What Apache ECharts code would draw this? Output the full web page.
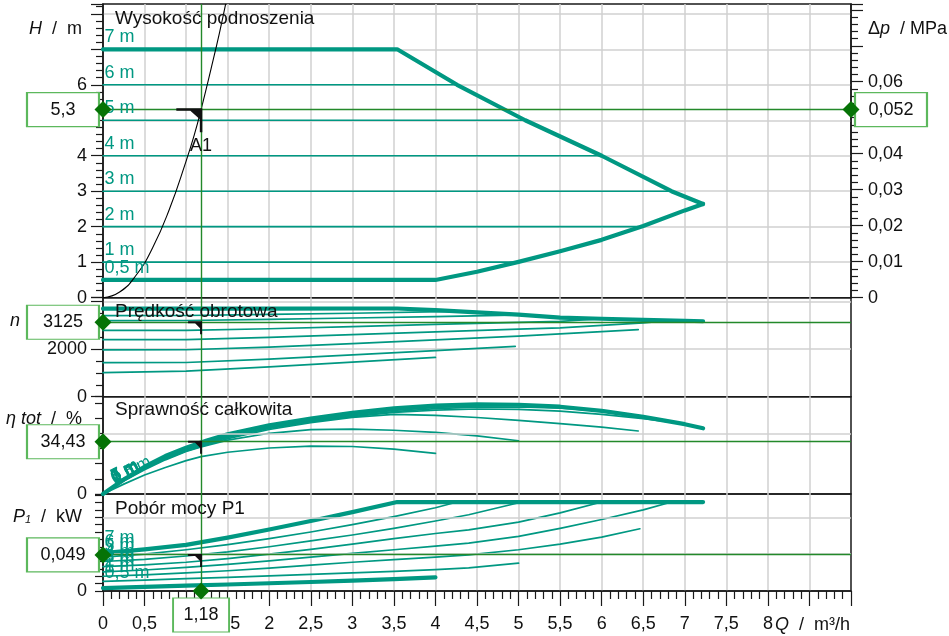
<!DOCTYPE html>
<html><head><meta charset="utf-8">
<script src="https://cdn.jsdelivr.net/npm/echarts@6/dist/echarts.min.js"></script>
<style>html,body{margin:0;padding:0;background:#fff}#c{width:949px;height:636px}</style>
</head><body><div id="c"></div>
<script>
// ---------- DATA ----------
const LEVEL_LABELS = ['7 m','6 m','5 m','4 m','3 m','2 m','1 m','0,5 m'];
const H_LEVELS = [7, 6, 5, 4, 3, 2, 1, 0.5];

// Head (H / m) vs Q (m3/h)
const H_UPPER = [[0,7],[3.54,7],[4.26,6],[5.08,5],[6,4],[6.84,3],[7.22,2.64]];
const H_LOWER = [[0,0.5],[4,0.5],[4.5,0.73],[5,1.01],[5.5,1.31],[6,1.63],[6.5,2.02],[7,2.46],[7.22,2.64]];
const H_6 = [[0,6],[4.26,6]];
const H_5 = [[0,5],[5.08,5]];
const H_4 = [[0,4],[6,4]];
const H_3 = [[0,3],[6.84,3]];
const H_2 = [[0,2],[6.44,2]];
const H_1 = [[0,1],[4.96,1]];
const SYSTEM = [[0,0],[0.2,0.16],[0.4,0.64],[0.6,1.42],[0.8,2.5],[1.0,3.85],[1.1,4.6],[1.18,5.3],[1.3,6.45],[1.4,7.45],[1.476,8.28]];

// Speed (n / rpm)
const N_7 = [[0,3690],[1,3693],[2,3697],[3,3700],[3.54,3700],[4,3630],[4.5,3535],[5,3440],[5.5,3320],[6,3270],[6.5,3225],[7,3185],[7.22,3165]];
const N_6 = [[0,3400],[1,3405],[2,3450],[3,3500],[4.26,3580]];
const N_5 = [[0,3190],[1,3195],[2,3240],[3,3300],[4,3360],[5.08,3428]];
const N_4 = [[0,2780],[1,2785],[2,2850],[3,2940],[4,3030],[5,3115],[5.5,3160],[6,3270]];
const N_3 = [[0,2390],[1,2392],[2,2490],[3,2600],[4,2715],[5,2830],[5.5,2890],[6,2990],[6.5,3100],[6.84,3198]];
const N_2 = [[0,1965],[1,1970],[2,2080],[3,2230],[4,2380],[5,2540],[5.5,2635],[6,2730],[6.44,2814]];
const N_1 = [[0,1430],[1,1435],[2,1580],[3,1755],[4,1930],[4.96,2110]];
const N_05 = [[0,1013],[1,1070],[2,1250],[3,1450],[4,1646]];

// Total efficiency (eta / %)
const E_7 = [[0,0],[0.25,9.5],[0.5,18],[0.75,25],[1,30.5],[1.25,35.3],[1.5,39.3],[2,45.3],[2.5,49.7],[3,53.5],[3.5,56.4],[4,58.2],[4.5,59.1],[5,58.8],[5.5,57.5],[6,54.8],[6.5,50.8],[7,46],[7.22,43.3]];
const E_6 = [[0,0],[0.25,9.3],[0.5,17.7],[0.75,24.6],[1,30],[1.5,38.8],[2,44.7],[2.5,49],[3,52.8],[3.5,55.7],[4,57.6],[4.26,58.6]];
const E_5 = [[0,0],[0.25,9.2],[0.5,17.5],[0.75,24.3],[1,29.7],[1.5,38.3],[2,44.2],[2.5,48.5],[3,52.2],[3.5,55],[4,57],[4.5,58],[5.08,58.6]];
const E_4 = [[0,0],[0.25,9.1],[0.5,17.3],[0.75,24],[1,29.4],[1.5,37.8],[2,43.7],[2.5,48],[3,51.6],[3.5,54.3],[4,56.2],[4.5,57.2],[5,57.3],[5.5,56.6],[6,54.8]];
const E_3 = [[0,0],[0.25,9],[0.5,17],[0.75,23.6],[1,29],[1.5,37.3],[2,43.2],[2.5,47.6],[3,51],[3.5,53.7],[4,55.3],[4.5,56],[5,55.8],[5.5,54.6],[6,52.5],[6.5,49.6],[6.84,47.4]];
const E_2 = [[0,0],[0.25,8.7],[0.5,16.5],[0.75,23],[1,28.3],[1.5,36.5],[2,42.5],[2.5,47],[3,50.5],[3.5,52.5],[4,51.8],[4.5,50.4],[5,48.5],[5.5,46.4],[6,44],[6.44,41.5]];
const E_1 = [[0,0],[0.25,8.5],[0.5,16],[0.75,22.5],[1,28],[1.18,31],[1.5,35.5],[2,40],[2.5,42.4],[3,42.8],[3.5,42],[4,40.6],[4.5,38.3],[5,35.1]];
const E_05 = [[0,0],[0.25,6.5],[0.5,12.5],[0.75,17.5],[1,22],[1.18,24.6],[1.5,27.5],[2,30.3],[2.5,31.5],[3,31.3],[3.5,29.6],[4,26.8]];
const E_LABEL_POS = [11.4, 11.1, 10.8, 10.5, 10.2, 9.9, 9.6, 9.3];

// Power input (P1 / kW)
const P_7 = [[0,0.0513],[0.5,0.0565],[1,0.0625],[1.5,0.0725],[2,0.0835],[2.5,0.0950],[3,0.1070],[3.54,0.1207],[7.22,0.1207]];
const P_6 = [[0,0.0460],[0.5,0.0500],[1,0.0560],[1.5,0.0630],[2,0.0710],[2.5,0.0800],[3,0.0900],[3.5,0.1010],[4,0.1130],[4.26,0.1207]];
const P_5 = [[0,0.0400],[0.5,0.0430],[1,0.0475],[1.5,0.0530],[2,0.0600],[2.5,0.0680],[3,0.0760],[3.5,0.0850],[4,0.0950],[4.4,0.1034],[5.04,0.1207]];
const P_4 = [[0,0.0330],[0.5,0.0355],[1,0.0390],[1.5,0.0440],[2,0.0500],[2.5,0.0565],[3,0.0635],[3.5,0.0710],[4,0.0780],[4.4,0.0830],[5,0.0935],[5.5,0.1060],[6,0.1207]];
const P_3 = [[0,0.0260],[0.5,0.0285],[1,0.0320],[1.5,0.0360],[2,0.0410],[2.5,0.0460],[3,0.0510],[3.5,0.0560],[4,0.0610],[4.4,0.0650],[5,0.0740],[5.5,0.0850],[6,0.0970],[6.5,0.1100],[6.84,0.1207]];
const P_2 = [[0,0.0200],[0.5,0.0220],[1,0.0245],[1.5,0.0275],[2,0.0310],[2.5,0.0350],[3,0.0390],[3.5,0.0425],[4,0.0460],[4.4,0.0490],[5,0.0560],[5.5,0.0635],[6,0.0730],[6.46,0.0844]];
const P_1 = [[0,0.0130],[0.5,0.0148],[1,0.0168],[1.5,0.0186],[2,0.0205],[2.5,0.0225],[3,0.0245],[3.5,0.0267],[4,0.0290],[4.4,0.0315],[5,0.0377]];
const P_05 = [[0,0.0040],[0.5,0.0055],[1,0.0072],[1.5,0.0088],[2,0.0105],[2.5,0.0122],[3,0.0140],[3.5,0.0162],[4,0.0186]];

// Operating point
const OP_Q = 1.18, OP_H = 5.3, OP_DP = 0.052, OP_N = 3125, OP_ETA = 34.43, OP_P = 0.049;
const OP_TEXT = {Q:'1,18', H:'5,3', DP:'0,052', N:'3125', ETA:'34,43', P:'0,049'};

// Axis ranges
const Q_MAX = 9, Q_LABEL_MAX = 8;
const H_MAX = 8.276, DP_MAX = 0.0816, N_MAX = 4152, ETA_MAX = 64.1, P_MAX = 0.1316;
const H_LABELS_SHOWN = [0, 1, 2, 3, 4, 6];
const DP_LABELS_SHOWN = [0, 0.01, 0.02, 0.03, 0.04, 0.06];
const ETA_GRIDLINES = [40];
const P_GRIDLINES = [0.05, 0.1];

// ---------- STYLE ----------
const FONT = "'Liberation Sans', Arial, sans-serif";
const TEAL = '#009882';
const GREEN_LINE = '#23892a';
const GREEN_DOT = '#067306';
const BOX_BORDER = '#5cb85c';
const GRAY = '#d0d0d0';
const DARK = '#1a1a1a';
const THICK = 4.2, THIN = 1.7;

const fmt = v => String(Math.round(v * 1000) / 1000).replace('.', ',');
const inList = (v, list) => list.some(x => Math.abs(x - v) < 1e-6);

const grids = [
  {left:103, right:98, top:4, height:293.7},
  {left:103, right:98, top:297.7, height:99},
  {left:103, right:98, top:396.7, height:97.3},
  {left:103, right:98, top:494, height:97}
].map(g => Object.assign(g, {show:true, borderColor:DARK, borderWidth:1.5, backgroundColor:'transparent'}));

function xAx(i) {
  const last = i === 3;
  return {
    type:'value', gridIndex:i, min:0, max:Q_MAX, interval:0.5,
    axisLine:{show:last, onZero:false, lineStyle:{color:DARK, width:1.5}},
    axisTick:{show:last, length:15, lineStyle:{color:DARK, width:1.2}},
    minorTick:{show:last, splitNumber:5, length:8, lineStyle:{color:DARK, width:1.2}},
    axisLabel:{show:last, margin:24, fontSize:18, color:'#111', fontFamily:FONT,
      formatter: v => v > Q_LABEL_MAX ? '' : fmt(v)},
    splitLine:{show:true, showMinLine:false, showMaxLine:false, lineStyle:{color:GRAY, width:1.5}}
  };
}
function yAx(gi, o) {
  return Object.assign({
    type:'value', gridIndex:gi, position:'left',
    axisLine:{show:true, onZero:false, lineStyle:{color:DARK, width:1.5}},
    axisTick:{show:true, length:12, lineStyle:{color:DARK, width:1.2}},
    minorTick:{show:false},
    axisLabel:{margin:16, fontSize:18, color:'#111', fontFamily:FONT},
    splitLine:{show:false}
  }, o);
}

const yAxes = [
  yAx(0, {min:0, max:H_MAX, interval:1,
    minorTick:{show:true, splitNumber:5, length:7, lineStyle:{color:DARK, width:1.2}},
    axisLabel:{margin:16, fontSize:18, color:'#111', fontFamily:FONT, formatter: v => inList(v, H_LABELS_SHOWN) ? fmt(v) : ''},
    splitLine:{show:true, showMinLine:false, showMaxLine:false, lineStyle:{color:GRAY, width:1.5}}}),
  yAx(0, {position:'right', min:0, max:DP_MAX, interval:0.01,
    minorTick:{show:true, splitNumber:5, length:7, lineStyle:{color:DARK, width:1.2}},
    axisLabel:{margin:17, fontSize:18, color:'#111', fontFamily:FONT, formatter: v => inList(v, DP_LABELS_SHOWN) ? fmt(v) : ''}}),
  yAx(1, {min:0, max:N_MAX, interval:2000,
    minorTick:{show:true, splitNumber:4, length:7, lineStyle:{color:DARK, width:1.2}},
    axisLabel:{margin:16, fontSize:18, color:'#111', fontFamily:FONT, formatter: v => v <= 2000 ? String(v) : ''},
    splitLine:{show:true, showMinLine:false, showMaxLine:false, lineStyle:{color:GRAY, width:1.5}}}),
  yAx(2, {min:0, max:ETA_MAX, interval:10, axisTick:{show:true, length:8, lineStyle:{color:DARK, width:1.2}},
    axisLabel:{margin:16, fontSize:18, color:'#111', fontFamily:FONT, formatter: v => v === 0 ? '0' : ''}}),
  yAx(3, {min:0, max:P_MAX, interval:0.01, axisTick:{show:true, length:8, lineStyle:{color:DARK, width:1.2}},
    axisLabel:{margin:16, fontSize:18, color:'#111', fontFamily:FONT, formatter: v => v === 0 ? '0' : ''}})
];

// ---------- SERIES ----------
const series = [];
function curve(data, xi, yi, thick) {
  series.push({type:'line', xAxisIndex:xi, yAxisIndex:yi, data, symbol:'none', showSymbol:false,
    silent:true, z:3,
    lineStyle:{color: TEAL, width: thick ? THICK : THIN, cap:'round', join:'round'}});
}
// H panel
curve(H_UPPER, 0, 0, true); curve(H_LOWER, 0, 0, true);
[H_6, H_5, H_4, H_3, H_2, H_1].forEach(d => curve(d, 0, 0, false));
series.push({type:'line', xAxisIndex:0, yAxisIndex:0, data:SYSTEM, symbol:'none', smooth:true, silent:true, z:4,
  lineStyle:{color:'#000', width:1.1}});
// n panel
curve(N_7, 1, 2, true);
[N_6, N_5, N_4, N_3, N_2, N_1, N_05].forEach(d => curve(d, 1, 2, false));
// eta panel
curve(E_7, 2, 3, true);
[E_6, E_5, E_4, E_3, E_2, E_1, E_05].forEach(d => curve(d, 2, 3, false));
// P panel
curve(P_7, 3, 4, true); curve(P_05, 3, 4, true);
[P_6, P_5, P_4, P_3, P_2, P_1].forEach(d => curve(d, 3, 4, false));

// extra grey grid lines
function greyLines(xi, yi, vals) {
  series.push({type:'scatter', xAxisIndex:xi, yAxisIndex:yi, data:[], symbolSize:0, z:1, silent:true,
    markLine:{silent:true, symbol:['none','none'], label:{show:false}, animation:false,
      lineStyle:{color:GRAY, width:1.5, type:'solid', opacity:1}, data: vals.map(v => ({yAxis:v}))}});
}
greyLines(2, 3, ETA_GRIDLINES);
greyLines(3, 4, P_GRIDLINES);

// curve labels
const labelBase = {show:true, color:TEAL, fontSize:18, fontFamily:FONT, position:'right', distance:1};
const hidden = {color:'transparent', opacity:1};
series.push({type:'scatter', xAxisIndex:0, yAxisIndex:0, symbolSize:1, itemStyle:hidden, z:5, silent:true, clip:false,
  label:Object.assign({}, labelBase, {offset:[0,-12]}),
  data: H_LEVELS.map((h, i) => ({value:[0, h], label:{formatter: LEVEL_LABELS[i]}}))});
const P_CURVES = [P_7, P_6, P_5, P_4, P_3, P_2, P_1, P_05];
series.push({type:'scatter', xAxisIndex:3, yAxisIndex:4, symbolSize:1, itemStyle:hidden, z:5, silent:true, clip:false,
  label:Object.assign({}, labelBase, {offset:[0,-15]}),
  data: P_CURVES.map((c, i) => ({value:c[0], label:{formatter: LEVEL_LABELS[i]}}))});
series.push({type:'scatter', xAxisIndex:2, yAxisIndex:3, symbolSize:1, itemStyle:hidden, z:5, silent:true, clip:false,
  label:Object.assign({}, labelBase, {rotate:27, fontSize:17, distance:2}),
  data: E_LABEL_POS.map((e, i) => ({value:[0.08, e], label:{formatter: LEVEL_LABELS[i]}}))});

// operating point guides
function guides(xi, yi, val) {
  series.push({type:'scatter', xAxisIndex:xi, yAxisIndex:yi, data:[], symbolSize:0, z:4, silent:true,
    markLine:{silent:true, symbol:['none','none'], label:{show:false}, animation:false,
      lineStyle:{color:GREEN_LINE, width:1.4, type:'solid', opacity:1}, data:[{yAxis:val},{xAxis:OP_Q}]}});
}
guides(0, 0, OP_H); guides(1, 2, OP_N); guides(2, 3, OP_ETA); guides(3, 4, OP_P);

// A1 markers
const A1_BIG = 'path://M0,0 L26,0 L26,24 L23.5,24 L23.5,2.5 L0,2.5 Z M14,2.5 L23.5,2.5 L23.5,11 Z';
const A1_SMALL = 'path://M0,0 L14,0 L14,13 L12,13 L12,2 L0,2 Z M7,2 L12,2 L12,7 Z';
function a1(xi, yi, val, big) {
  series.push({type:'scatter', xAxisIndex:xi, yAxisIndex:yi, data:[[OP_Q, val]], silent:true, clip:false, z:6,
    symbol: big ? A1_BIG : A1_SMALL, symbolSize: big ? [26,24] : [14,13],
    symbolOffset: big ? [-11.75, 10.75] : [-6, 5.5], itemStyle:{color:'#111', opacity:1}});
}
a1(0, 0, OP_H, true); a1(1, 2, OP_N, false); a1(2, 3, OP_ETA, false); a1(3, 4, OP_P, false);
series.push({type:'scatter', xAxisIndex:0, yAxisIndex:0, data:[[OP_Q, OP_H]], symbolSize:1, itemStyle:hidden,
  silent:true, clip:false, z:6,
  label:{show:true, formatter:'A1', position:'inside', offset:[0,36], fontSize:18, fontFamily:FONT, color:'#111'}});

// value boxes
function box(xi, yi, pt, text, size, offset) {
  series.push({type:'scatter', xAxisIndex:xi, yAxisIndex:yi, data:[pt], silent:true, clip:false, z:8,
    symbol:'rect', symbolSize:size, symbolOffset:offset,
    itemStyle:{color:'#fff', borderColor:BOX_BORDER, borderWidth:1.5, opacity:1},
    label:{show:true, position:'inside', formatter:text, fontSize:18, fontFamily:FONT, color:'#111'}});
}
box(0, 0, [0, OP_H], OP_TEXT.H, [72,34], [-40,0]);
box(0, 0, [Q_MAX, OP_H], OP_TEXT.DP, [72,34], [40,0]);
box(1, 2, [0, OP_N], OP_TEXT.N, [72,34], [-40,0]);
box(2, 3, [0, OP_ETA], OP_TEXT.ETA, [72,34], [-40,0]);
box(3, 4, [0, OP_P], OP_TEXT.P, [72,34], [-40,0]);
box(3, 4, [OP_Q, 0], OP_TEXT.Q, [56,34], [0,24]);

// diamonds
function diamonds(xi, yi, pts) {
  series.push({type:'scatter', xAxisIndex:xi, yAxisIndex:yi, data:pts, silent:true, clip:false, z:9,
    symbol:'diamond', symbolSize:[17,17], itemStyle:{color:GREEN_DOT, opacity:1}});
}
diamonds(0, 0, [[0, OP_H], [Q_MAX, OP_H]]);
diamonds(1, 2, [[0, OP_N]]);
diamonds(2, 3, [[0, OP_ETA]]);
diamonds(3, 4, [[0, OP_P], [OP_Q, 0]]);

// ---------- TEXTS ----------
function txt(x, y, text, align, extra) {
  return {type:'text', x, y, z:7, silent:true,
    style:Object.assign({text, fill:'#111', fontSize:18, fontFamily:FONT, align:align, verticalAlign:'middle',
      rich:{i:{fontStyle:'italic', fontSize:18, fontFamily:FONT, fill:'#111'},
            s:{fontStyle:'italic', fontSize:11, fontFamily:FONT, fill:'#111', padding:[6,0,0,0]}}}, extra || {})};
}
const graphic = [
  txt(115, 19, 'Wysokość podnoszenia', 'left', {fontSize:19}),
  txt(115, 312, 'Prędkość obrotowa', 'left', {fontSize:19}),
  txt(115, 410, 'Sprawność całkowita', 'left', {fontSize:19}),
  txt(115, 509, 'Pobór mocy P1', 'left', {fontSize:19}),
  txt(82, 29, '{i|H}  /  m', 'right'),
  txt(868, 29, 'Δ{i|p}  / MPa', 'left'),
  txt(10, 321, '{i|n}', 'left'),
  txt(82, 419, '{i|η tot}  /  %', 'right'),
  txt(82, 517, '{i|P}{s|1}  /  kW', 'right'),
  txt(850, 625, '{i|Q}  /  m³/h', 'right')
];

const chart = echarts.init(document.getElementById('c'), null, {renderer:'canvas'});
chart.setOption({
  animation:false,
  backgroundColor:'#fff',
  textStyle:{fontFamily:FONT},
  grid: grids,
  xAxis: [0,1,2,3].map(xAx),
  yAxis: yAxes,
  series,
  graphic
});
</script>
</body></html>
